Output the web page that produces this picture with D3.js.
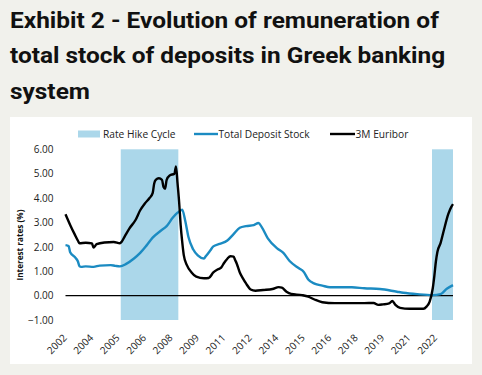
<!DOCTYPE html>
<html><head><meta charset="utf-8">
<script src="https://cdn.jsdelivr.net/npm/d3@7/dist/d3.min.js"></script>
<style>
html,body{margin:0;padding:0;background:#f1f1ec;}
svg{display:block;}
</style></head>
<body>
<svg id="c" width="482" height="375"></svg>
<script>
// ---------- data ----------
const titleLines = ["Exhibit 2 - Evolution of remuneration of", "total stock of deposits in Greek banking", "system"];
const yAxisTitle = "Interest rates (%)";
const seriesNames = ["Rate Hike Cycle", "Total Deposit Stock", "3M Euribor"];
const firstMonth = "2002-09";
const lastMonth = "2023-06";
const xTickMonths = ["2002-09","2004-02","2005-07","2006-12","2008-05","2009-10","2011-03","2012-08","2014-01","2015-06","2016-11","2018-04","2019-09","2021-02","2022-07"];
const yTicks = [-1, 0, 1, 2, 3, 4, 5, 6];
const hikeStart = ["2005-09", "2022-05"];
const hikeEnd = ["2008-09", "2023-06"];

const euriborMonths = ["2002-09","2002-12","2003-03","2003-05","2003-06","2003-10","2004-02","2004-03","2004-05","2004-10","2005-04","2005-08","2005-09","2005-11","2006-02","2006-06","2006-09","2006-12","2007-03","2007-05","2007-06","2007-07","2007-09","2007-11","2007-12","2008-01","2008-02","2008-04","2008-07","2008-08","2008-09","2008-10","2008-11","2008-12","2009-01","2009-03","2009-06","2009-09","2010-02","2010-05","2010-08","2010-11","2011-01","2011-03","2011-06","2011-07","2011-09","2011-10","2011-11","2012-01","2012-03","2012-05","2012-08","2012-11","2013-04","2013-10","2014-02","2014-04","2014-07","2014-10","2015-05","2015-09","2016-01","2016-06","2017-02","2018-09","2019-03","2019-06","2019-09","2020-01","2020-03","2020-05","2020-08","2021-02","2021-11","2022-01","2022-03","2022-05","2022-06","2022-07","2022-08","2022-10","2022-12","2023-03","2023-05","2023-06"];
const euriborValues = [3.34,2.9,2.5,2.25,2.15,2.17,2.14,1.97,2.11,2.18,2.2,2.15,2.2,2.42,2.75,3.1,3.5,3.78,4.0,4.2,4.6,4.75,4.81,4.75,4.45,4.38,4.75,4.93,5.0,5.3,4.6,3.85,2.89,2.2,1.66,1.25,0.95,0.78,0.71,0.72,0.95,1.08,1.15,1.35,1.58,1.62,1.6,1.46,1.32,0.95,0.71,0.5,0.25,0.2,0.23,0.27,0.35,0.33,0.16,0.07,0.02,-0.04,-0.16,-0.27,-0.31,-0.31,-0.3,-0.38,-0.36,-0.32,-0.22,-0.38,-0.5,-0.54,-0.54,-0.45,-0.25,0.3,0.8,1.4,1.8,2.15,2.65,3.35,3.65,3.75];

const depositMonths = ["2002-09","2002-11","2002-12","2003-03","2003-05","2003-06","2003-07","2003-10","2004-03","2004-07","2005-02","2005-05","2005-08","2005-12","2006-05","2006-09","2007-01","2007-05","2007-10","2008-02","2008-06","2008-09","2008-12","2009-02","2009-04","2009-07","2009-10","2010-02","2010-03","2010-06","2010-08","2010-12","2011-05","2011-09","2012-01","2012-05","2012-10","2013-01","2013-03","2013-07","2014-01","2014-05","2014-09","2015-03","2015-06","2015-09","2016-01","2016-06","2016-11","2018-01","2018-09","2019-07","2020-06","2020-10","2021-07","2022-05","2022-10","2023-02","2023-06"];
const depositValues = [2.07,2.03,1.78,1.58,1.4,1.2,1.18,1.2,1.18,1.23,1.25,1.22,1.2,1.3,1.52,1.75,2.05,2.38,2.65,2.85,3.2,3.4,3.52,3.05,2.4,1.9,1.65,1.52,1.6,1.85,2.02,2.12,2.26,2.52,2.78,2.85,2.89,2.98,2.82,2.35,1.94,1.75,1.42,1.12,0.98,0.66,0.49,0.41,0.34,0.34,0.3,0.27,0.16,0.12,0.06,0.02,0.06,0.28,0.43];

// ---------- helpers ----------
function mIndex(s){ const [yy,mm] = s.split("-").map(Number); const [y0,m0] = firstMonth.split("-").map(Number); return (yy-y0)*12 + (mm-m0); }
const nLast = mIndex(lastMonth);

const svg = d3.select("#c");

// panel
svg.append("rect").attr("x",10).attr("y",117).attr("width",462).attr("height",247).attr("fill","#ffffff");

// title
const title = svg.append("text").attr("font-family","Roboto, sans-serif").attr("font-weight",700)
  .attr("font-size",22).attr("fill","#111").attr("transform","translate(10,0) scale(1.11,1)");
titleLines.forEach((t,i)=>{
  title.append("tspan").attr("x",0).attr("y",28 + i*35.3).text(t);
});

// scales
const x = d3.scaleLinear().domain([0, nLast]).range([65.5, 453]);
const y = d3.scaleLinear().domain([-1, 6]).range([320, 149.3]);

// bands
const bands = hikeStart.map((s,i)=>({s:mIndex(s)-0.5, e:Math.min(mIndex(hikeEnd[i])+0.5, nLast)}));
svg.append("g").selectAll("rect").data(bands).join("rect")
  .attr("x", d=>x(d.s)).attr("width", d=>x(d.e)-x(d.s))
  .attr("y", y(6)).attr("height", y(-1)-y(6))
  .attr("fill","#abd7ea");

// zero line
svg.append("line").attr("x1",x(0)).attr("x2",x(nLast)).attr("y1",y(0)).attr("y2",y(0))
  .attr("stroke","#000").attr("stroke-width",1.2);

// y axis
const yAxis = d3.axisLeft(y).tickValues(yTicks).tickFormat(d3.format(".2f")).tickSize(0).tickPadding(12);
const gy = svg.append("g").attr("transform",`translate(${x(0)},0)`).call(yAxis);
gy.select(".domain").remove();
gy.selectAll("text").attr("font-family","'Open Sans', sans-serif").attr("font-size",10).attr("fill","#222");

// x axis
const xAxis = d3.axisBottom(x).tickValues(xTickMonths.map(mIndex)).tickFormat(d=>{
  return String(+firstMonth.slice(0,4) + Math.floor((d + (+firstMonth.slice(5,7)) - 1)/12));
}).tickSize(0).tickPadding(0);
const gx = svg.append("g").attr("transform",`translate(0,326)`).call(xAxis);
gx.select(".domain").remove();
gx.selectAll("text").attr("font-family","'Open Sans', sans-serif").attr("font-size",10).attr("fill","#222")
  .attr("text-anchor","end").attr("dy","0.35em").attr("y",0).attr("x",0)
  .attr("transform","translate(-1,10) rotate(-45)");

// y axis title
svg.append("text").attr("transform",`translate(23,245) rotate(-90)`).attr("text-anchor","middle")
  .attr("font-family","'Open Sans', sans-serif").attr("font-weight",700).attr("font-size",8.2).attr("fill","#111")
  .text(yAxisTitle);

// lines
const line = d3.line().x(d=>x(d.i)).y(d=>y(d.v)).curve(d3.curveMonotoneX);
const dep = depositMonths.map((m,i)=>({i:mIndex(m), v:depositValues[i]}));
const eur = euriborMonths.map((m,i)=>({i:mIndex(m), v:euriborValues[i]}));
svg.append("path").datum(dep).attr("d",line).attr("fill","none").attr("stroke","#1b8bc2").attr("stroke-width",2.4).attr("stroke-linejoin","round");
svg.append("path").datum(eur).attr("d",line).attr("fill","none").attr("stroke","#000").attr("stroke-width",2.4).attr("stroke-linejoin","round");

// legend
const lg = svg.append("g").attr("font-family","'Open Sans', sans-serif").attr("font-size",10.2).attr("fill","#222");
lg.append("rect").attr("x",78).attr("y",130.5).attr("width",22).attr("height",7).attr("fill","#abd7ea");
lg.append("text").attr("x",103).attr("y",137.5).text(seriesNames[0]);
lg.append("line").attr("x1",194).attr("x2",218).attr("y1",134).attr("y2",134).attr("stroke","#1b8bc2").attr("stroke-width",2.4);
lg.append("text").attr("x",218.5).attr("y",137.5).text(seriesNames[1]);
lg.append("line").attr("x1",330).attr("x2",355).attr("y1",134).attr("y2",134).attr("stroke","#000").attr("stroke-width",2.4);
lg.append("text").attr("x",355.5).attr("y",137.5).text(seriesNames[2]);
</script>
</body></html>
